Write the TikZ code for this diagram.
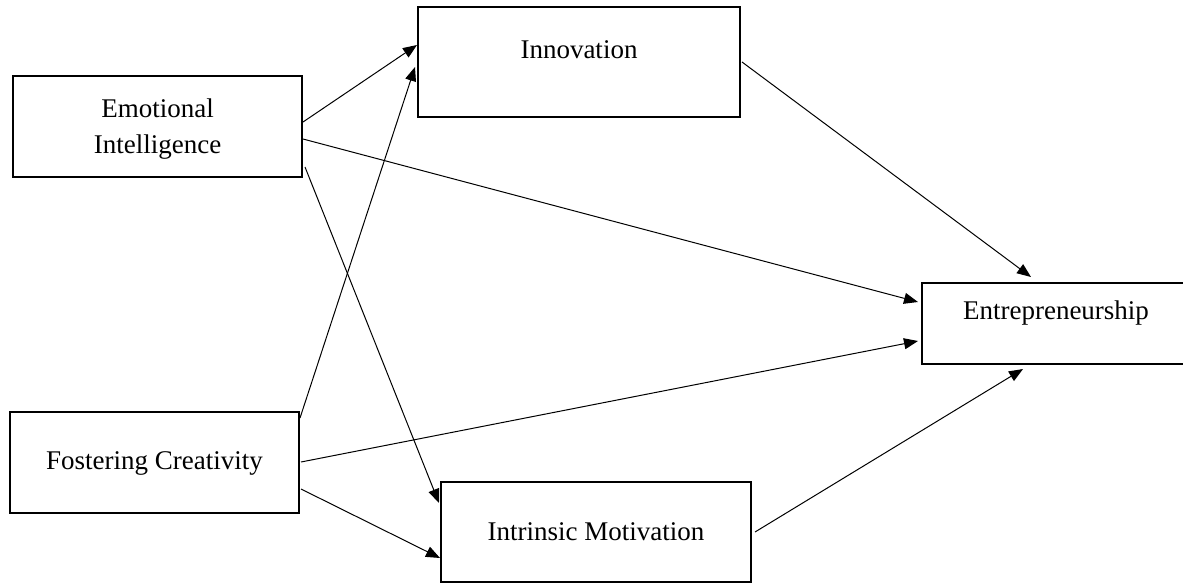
\documentclass[tikz,border=0pt]{standalone}
\usepackage{fontspec}
\setmainfont{Liberation Serif}
\usetikzlibrary{arrows.meta}
\begin{document}
\begin{tikzpicture}[x=1pt,y=-1pt,
  box/.style={draw,line width=1.8pt,inner sep=0pt,rectangle},
  lbl/.style={inner sep=0pt,anchor=base,font=\fontsize{27}{36}\selectfont},
  conn/.style={line width=1pt,-{Triangle[length=14pt,width=11pt]}}]
\useasboundingbox (0,0) rectangle (1183,584);
% boxes
\node[box,minimum width=289pt,minimum height=101pt] (ei) at (157.5,126.5) {};
\node[box,minimum width=322pt,minimum height=110pt] (inn) at (579,62) {};
\node[box,minimum width=270pt,minimum height=81pt] (ent) at (1057,323.5) {};
\node[box,minimum width=289pt,minimum height=101pt] (fc) at (154.5,462.5) {};
\node[box,minimum width=310pt,minimum height=100pt] (im) at (596,532) {};
% texts
\node[lbl] (eiA) at (157.5,117) {Emotional};
\node[lbl] (eiB) at (157.5,153) {Intelligence};
\node[lbl] (innT) at (579,58) {Innovation};
\node[lbl] (entT) at (1056,319) {Entrepreneurship};
\node[lbl] (fcT) at (154.5,469) {Fostering Creativity};
\node[lbl] (imT) at (596,540) {Intrinsic Motivation};
% connector end points
\coordinate (eiO1) at (303,122);
\coordinate (eiO2) at (303,139);
\coordinate (eiO3) at (305,167);
\coordinate (fcO1) at (300,418);
\coordinate (fcO2) at (301,462);
\coordinate (fcO3) at (301,489);
\coordinate (innO) at (742,62);
\coordinate (imO) at (755,532);
\coordinate (innI1) at (417,45);
\coordinate (innI2) at (415,67);
\coordinate (entI1) at (1031,277);
\coordinate (entI2) at (918,302);
\coordinate (entI3) at (918,341);
\coordinate (entI4) at (1023,369);
\coordinate (imI1) at (439,503);
\coordinate (imI2) at (440,558);
% connectors
\draw[conn] (eiO1) -- (innI1);
\draw[conn] (fcO1) -- (innI2);
\draw[conn] (eiO2) -- (entI2);
\draw[conn] (eiO3) -- (imI1);
\draw[conn] (fcO2) -- (entI3);
\draw[conn] (fcO3) -- (imI2);
\draw[conn] (innO) -- (entI1);
\draw[conn] (imO) -- (entI4);
\end{tikzpicture}
\end{document}
